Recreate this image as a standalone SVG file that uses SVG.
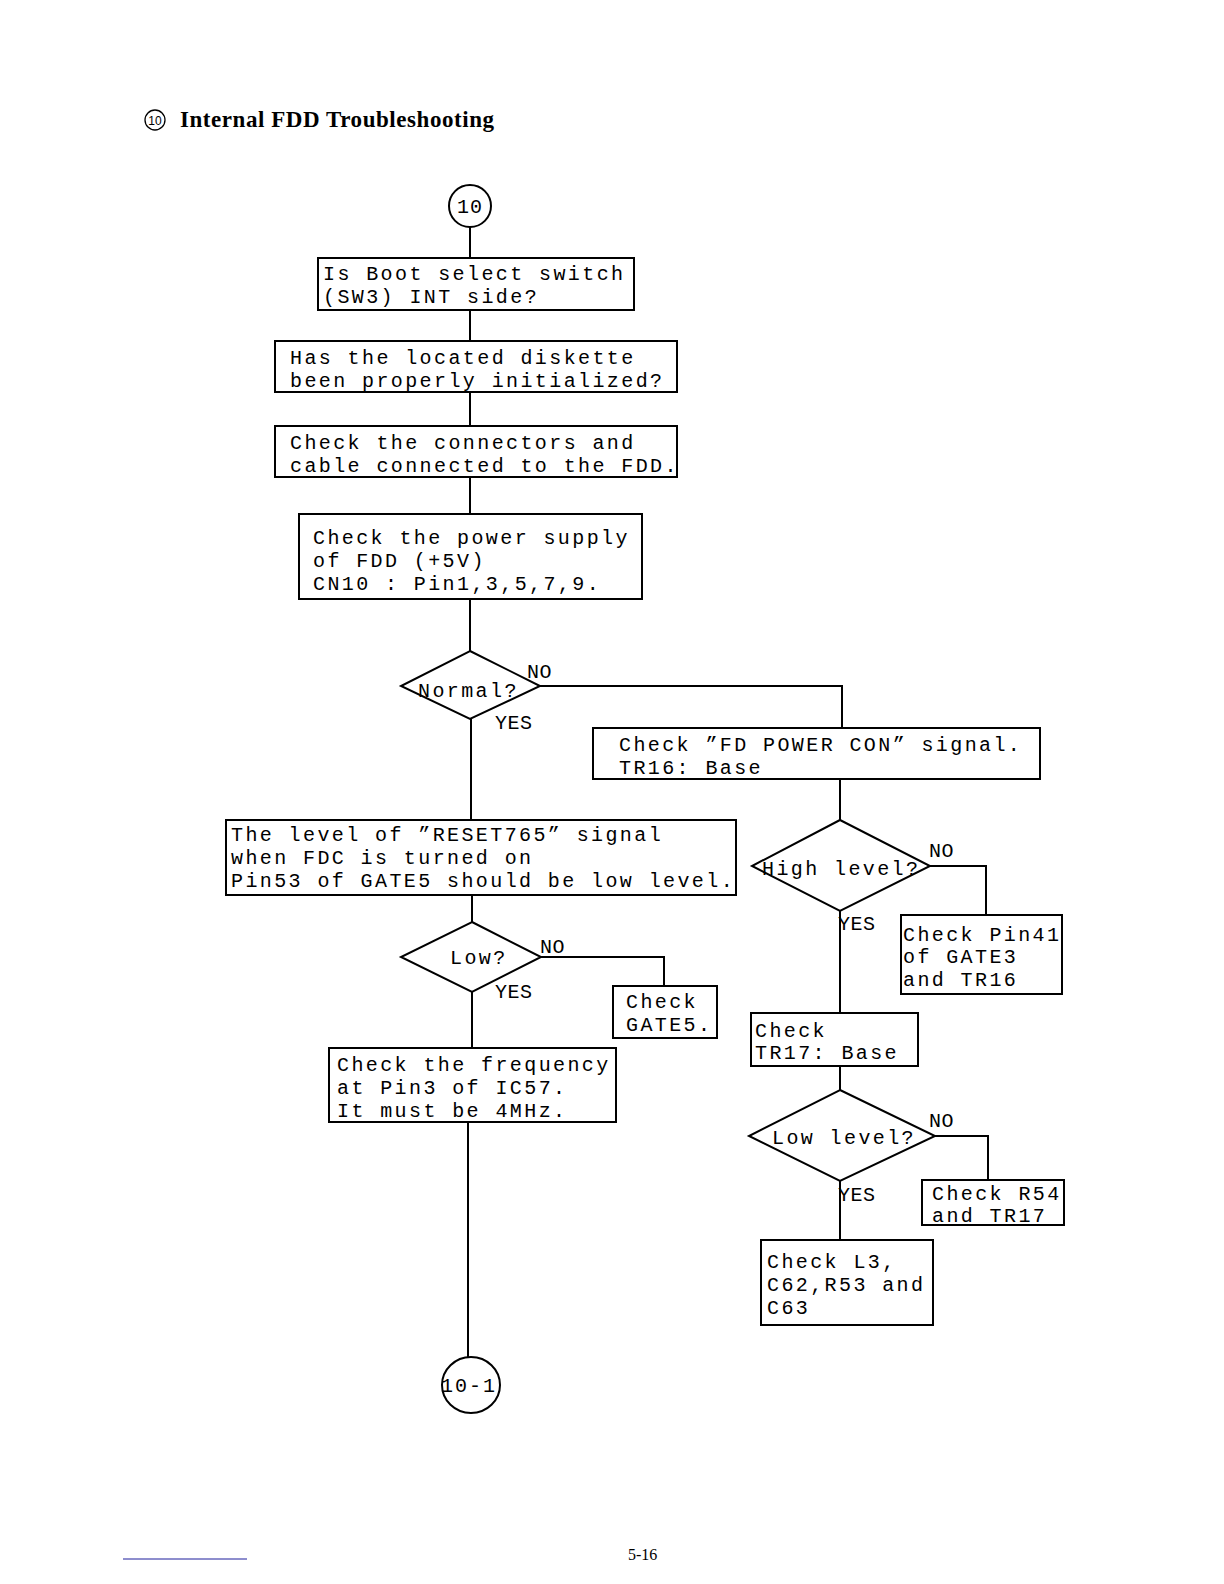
<svg xmlns="http://www.w3.org/2000/svg" width="1224" height="1584" viewBox="0 0 1224 1584">
<style>
.box{fill:#fff;stroke:#000;stroke-width:2}
.ln{fill:none;stroke:#000;stroke-width:2}
.t{font-family:"Liberation Mono","DejaVu Sans Mono",monospace;font-size:20px;letter-spacing:2.4px;fill:#000}
.lbl{font-family:"Liberation Mono","DejaVu Sans Mono",monospace;font-size:20px;letter-spacing:0.5px;fill:#000}
</style>
<rect width="1224" height="1584" fill="#fff"/>
<g id="title">
<circle cx="155" cy="120" r="10" fill="none" stroke="#000" stroke-width="1.3"/>
<text x="155" y="124.5" font-family="Liberation Sans,Arial,sans-serif" font-size="12" text-anchor="middle">10</text>
<text x="180" y="127" font-family="Liberation Serif,Times New Roman,serif" font-size="23" font-weight="bold" textLength="314">Internal FDD Troubleshooting</text>
</g>
<g id="connectors">
<path class="ln" d="M470 227V258M470 310V341M470 392V426M470 477V514M470 599V651"/>
<path class="ln" d="M540 686H842V728"/>
<path class="ln" d="M840 779V820"/>
<path class="ln" d="M930 866H986V915"/>
<path class="ln" d="M840 911V1013"/>
<path class="ln" d="M840 1066V1090"/>
<path class="ln" d="M935 1136H988V1180"/>
<path class="ln" d="M840 1181V1240"/>
<path class="ln" d="M471 719V820"/>
<path class="ln" d="M472 895V922"/>
<path class="ln" d="M541 957H664V986"/>
<path class="ln" d="M472 992V1048"/>
<path class="ln" d="M468 1122V1357"/>
</g>
<g id="start">
<circle cx="470" cy="206" r="21" class="box"/>
<text x="470" y="213" class="t" text-anchor="middle" style="letter-spacing:1px">10</text>
</g>
<g id="boot">
<rect x="318" y="258" width="316" height="52" class="box"/>
<text class="t" x="323" y="280">Is Boot select switch</text>
<text class="t" x="323" y="303">(SW3) INT side?</text>
</g>
<g id="diskette">
<rect x="275" y="341" width="402" height="51" class="box"/>
<text class="t" x="290" y="364">Has the located diskette</text>
<text class="t" x="290" y="387">been properly initialized?</text>
</g>
<g id="connectorsCheck">
<rect x="275" y="426" width="402" height="51" class="box"/>
<text class="t" x="290" y="449">Check the connectors and</text>
<text class="t" x="290" y="472">cable connected to the FDD.</text>
</g>
<g id="power">
<rect x="299" y="514" width="343" height="85" class="box"/>
<text class="t" x="313" y="544">Check the power supply</text>
<text class="t" x="313" y="567">of FDD (+5V)</text>
<text class="t" x="313" y="590">CN10 : Pin1,3,5,7,9.</text>
</g>
<g id="normal">
<polygon points="470,651 540,686 470,719 401,686" class="box"/>
<text class="t" x="418" y="697">Normal?</text>
<text class="lbl" x="527" y="678">NO</text>
<text class="lbl" x="495" y="729">YES</text>
</g>
<g id="fdpower">
<rect x="593" y="728" width="447" height="51" class="box"/>
<text class="t" x="619" y="751">Check ”FD POWER CON” signal.</text>
<text class="t" x="619" y="774">TR16: Base</text>
</g>
<g id="high">
<polygon points="840,820 930,866 840,911 752,866" class="box"/>
<text class="t" x="762" y="875">High level?</text>
<text class="lbl" x="929" y="857">NO</text>
<text class="lbl" x="838" y="930">YES</text>
</g>
<g id="pin41">
<rect x="901" y="915" width="161" height="79" class="box"/>
<text class="t" x="903" y="941">Check Pin41</text>
<text class="t" x="903" y="963">of GATE3</text>
<text class="t" x="903" y="986">and TR16</text>
</g>
<g id="tr17">
<rect x="751" y="1013" width="167" height="53" class="box"/>
<text class="t" x="755" y="1037">Check</text>
<text class="t" x="755" y="1059">TR17: Base</text>
</g>
<g id="lowlevel">
<polygon points="840,1090 935,1136 840,1181 749,1136" class="box"/>
<text class="t" x="772" y="1144">Low level?</text>
<text class="lbl" x="929" y="1127">NO</text>
<text class="lbl" x="838" y="1201">YES</text>
</g>
<g id="r54">
<rect x="922" y="1180" width="142" height="45" class="box"/>
<text class="t" x="932" y="1200">Check R54</text>
<text class="t" x="932" y="1222">and TR17</text>
</g>
<g id="l3">
<rect x="761" y="1240" width="172" height="85" class="box"/>
<text class="t" x="767" y="1268">Check L3,</text>
<text class="t" x="767" y="1291">C62,R53 and</text>
<text class="t" x="767" y="1314">C63</text>
</g>
<g id="reset">
<rect x="226" y="820" width="510" height="75" class="box"/>
<text class="t" x="231" y="841">The level of ”RESET765” signal</text>
<text class="t" x="231" y="864">when FDC is turned on</text>
<text class="t" x="231" y="887">Pin53 of GATE5 should be low level.</text>
</g>
<g id="low">
<polygon points="472,922 541,957 472,992 401,957" class="box"/>
<text class="t" x="450" y="964">Low?</text>
<text class="lbl" x="540" y="953">NO</text>
<text class="lbl" x="495" y="998">YES</text>
</g>
<g id="gate5">
<rect x="613" y="986" width="104" height="52" class="box"/>
<text class="t" x="626" y="1008">Check</text>
<text class="t" x="626" y="1031">GATE5.</text>
</g>
<g id="freq">
<rect x="329" y="1048" width="287" height="74" class="box"/>
<text class="t" x="337" y="1071">Check the frequency</text>
<text class="t" x="337" y="1094">at Pin3 of IC57.</text>
<text class="t" x="337" y="1117">It must be 4MHz.</text>
</g>
<g id="end">
<ellipse cx="471" cy="1385" rx="29" ry="28" class="box"/>
<text class="t" x="441" y="1392" style="letter-spacing:2px">10-1</text>
</g>
<g id="footer">
<line x1="123" y1="1559" x2="247" y2="1559" stroke="#1c1c9c" stroke-width="1"/>
<text x="628" y="1560" font-family="Liberation Serif,Times New Roman,serif" font-size="16">5-16</text>
</g>
</svg>
